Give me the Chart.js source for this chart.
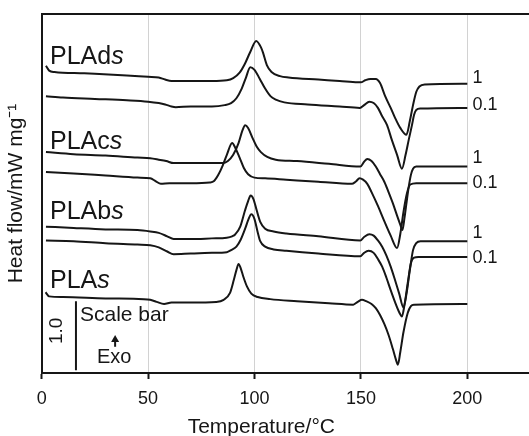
<!DOCTYPE html>
<html>
<head>
<meta charset="utf-8">
<script src="https://cdn.jsdelivr.net/npm/chart.js@4.4.1/dist/chart.umd.min.js"></script>
<style>
  html, body { margin: 0; padding: 0; background: #fff; }
  canvas { display: block; }
</style>
</head>
<body>
<canvas id="dsc" width="529" height="436"></canvas>
<script>
// DSC curves, heat flow in mW/mg (curves are stacked, offsets)
const samples = ['PLAds', 'PLAcs', 'PLAbs', 'PLAs'];
const rates = ['1', '0.1'];

// PLAds, rate 1
const tempA = [2,3.5,6,20,40,50,55,58,61,63,80,87,90,93,95.5,98,100.8,103,104,105.8,108,112,116,130,140,148.5,150,152,154.5,157,159,161.4,164,166,168.5,171.4,173,174.5,176,177.5,180,200];
const flowA = [4.45,4.38,4.36,4.34,4.31,4.29,4.28,4.25,4.23,4.23,4.23,4.24,4.27,4.35,4.48,4.65,4.81,4.72,4.64,4.46,4.36,4.30,4.28,4.25,4.23,4.21,4.21,4.24,4.26,4.26,4.20,4.01,3.84,3.70,3.55,3.45,3.65,3.88,4.07,4.15,4.18,4.19];
// PLAds, rate 0.1
const tempB = [2,10,25,40,50,55,58,61,63,70,80,86,89,91.5,94,96,98,100,102.5,105,107.5,110,114,125,140,149.5,151.5,154,156,158,160,162.3,164.5,167,169.3,171,172.5,174,175,176,178,200];
const flowB = [4.01,3.99,3.97,3.95,3.93,3.91,3.89,3.86,3.85,3.86,3.86,3.88,3.91,3.98,4.12,4.28,4.43,4.39,4.26,4.12,4.01,3.96,3.92,3.89,3.86,3.84,3.88,3.93,3.91,3.84,3.72,3.59,3.38,3.16,2.96,3.16,3.38,3.59,3.74,3.81,3.83,3.84];
// PLAcs, rate 1
const tempC = [2,15,30,45,51,55,58.5,62,70,80,85,87.5,90,92.5,94.3,95.6,97,99,101,103,106,110,120,135,149.7,151.5,153,155,157,159,161,163,165,167,168.5,169.5,170.5,171.5,172.5,173.5,174.5,176,200];
const flowC = [3.20,3.17,3.15,3.12,3.11,3.09,3.07,3.04,3.04,3.04,3.04,3.07,3.16,3.33,3.51,3.59,3.55,3.41,3.28,3.20,3.13,3.09,3.07,3.03,2.99,3.06,3.10,3.07,2.99,2.88,2.77,2.62,2.46,2.28,2.15,2.07,2.25,2.48,2.70,2.87,2.96,2.99,2.99];
// PLAcs, rate 0.1
const tempD = [2,15,30,45,51,53.5,56,60,70,79,81,83,85,87,89.5,91,93,95,97,100,105,115,130,145.8,147.5,149.4,151,153,155,158,161,164,167,168.5,170,171.7,173.2,176,200];
const flowD = [2.91,2.89,2.86,2.83,2.82,2.78,2.74,2.75,2.75,2.76,2.78,2.87,3.00,3.16,3.33,3.26,3.12,2.97,2.88,2.83,2.82,2.80,2.77,2.74,2.77,2.82,2.80,2.74,2.62,2.42,2.20,1.99,1.81,2.01,2.33,2.61,2.73,2.75,2.75];
// PLAbs, rate 1
const tempE = [2,15,30,45,51,55,59,62,70,80,87,89.5,91,93.3,95.6,97,98.2,99.5,101,102.7,105,109,115,130,149.7,151.5,154,156,158,160,162,164,166,168,170,171.5,173,174.5,176,178,200];
const flowE = [2.12,2.10,2.08,2.07,2.05,2.03,1.98,1.94,1.94,1.95,1.96,1.98,2.01,2.12,2.36,2.49,2.57,2.52,2.36,2.19,2.09,2.05,2.02,1.98,1.92,1.97,2.01,1.99,1.92,1.83,1.70,1.54,1.35,1.15,0.95,1.16,1.49,1.78,1.88,1.91,1.91];
// PLAbs, rate 0.1
const tempF = [2,15,30,45,51,55,59,62,70,80,87,89,91.5,93.5,95.6,97.2,98.5,100,101.5,102.7,105,109,115,130,149.7,151.5,153.6,156,158,160,162,164,166,168,169.3,170.5,172,173.5,175,177,200];
const flowF = [1.92,1.91,1.88,1.86,1.85,1.82,1.76,1.72,1.73,1.74,1.75,1.78,1.83,1.93,2.09,2.23,2.30,2.23,2.04,1.91,1.83,1.79,1.77,1.73,1.69,1.74,1.77,1.74,1.65,1.54,1.38,1.20,1.03,0.88,0.82,0.99,1.30,1.59,1.67,1.68,1.68];
// PLAs
const tempG = [1.8,3.5,10,30,48,51,54,57.5,61,70,82,85.5,88.5,90.3,91.5,92.5,93.5,94.8,96.5,98.5,101.5,107.4,120,135,146.4,148.5,150.5,152.5,155,157,159,161,163,165,166.5,167.4,168.5,170,172,173.5,175,200];
const flowG = [1.17,1.11,1.10,1.08,1.07,1.06,1.03,1.00,1.02,1.02,1.03,1.06,1.16,1.35,1.49,1.58,1.52,1.39,1.25,1.15,1.10,1.07,1.04,1.01,0.99,1.03,1.06,1.04,1.00,0.94,0.84,0.71,0.55,0.35,0.19,0.12,0.30,0.59,0.87,0.97,0.99,1.00];

// 1.0 mW/mg scale bar
const scaleBarT = [16.1, 16.1];
const scaleBarFlow = [0.04, 1.04];

const xTicks = [0, 50, 100, 150, 200];

const FONT = '"Liberation Sans", Arial, Helvetica, sans-serif';
const INK = '#161616';

function pts(temps, flows) {
  return temps.map((t, i) => ({ x: t, y: flows[i] }));
}

const curves = [[tempA, flowA], [tempB, flowB], [tempC, flowC], [tempD, flowD],
                [tempE, flowE], [tempF, flowF], [tempG, flowG]];

const datasets = curves.map(([t, f]) => ({
  data: pts(t, f),
  xAxisID: 'x',
  yAxisID: 'y',
  borderColor: INK,
  borderWidth: 2,
  pointRadius: 0,
  cubicInterpolationMode: 'monotone',
  fill: false
}));
datasets.push({
  data: pts(scaleBarT, scaleBarFlow),
  xAxisID: 'x',
  yAxisID: 'y',
  borderColor: INK,
  borderWidth: 2,
  pointRadius: 0
});

// text labels, arrow and x title
const annotations = {
  id: 'annotations',
  afterDatasetsDraw(chart) {
    const { ctx } = chart;
    const x = chart.scales.x, y = chart.scales.y;
    ctx.save();
    ctx.fillStyle = INK;
    ctx.strokeStyle = INK;
    ctx.textBaseline = 'middle';
    ctx.textAlign = 'left';

    const sampleY = [4.57, 3.35, 2.33, 1.33];
    samples.forEach((name, i) => {
      const px = x.getPixelForValue(3.9);
      const py = y.getPixelForValue(sampleY[i]);
      const stem = name.slice(0, -1);
      ctx.font = '25px ' + FONT;
      ctx.fillText(stem, px, py);
      const w = ctx.measureText(stem).width;
      ctx.font = 'italic 25px ' + FONT;
      ctx.fillText(name.slice(-1), px + w, py);
    });

    const rateY = [4.27, 3.88, 3.12, 2.75, 2.03, 1.67];
    ctx.font = '18px ' + FONT;
    rateY.forEach((v, i) => {
      ctx.fillText(rates[i % 2], x.getPixelForValue(202.4), y.getPixelForValue(v));
    });

    ctx.font = '21px ' + FONT;
    ctx.fillText('Scale bar', x.getPixelForValue(18), y.getPixelForValue(0.83));

    ctx.textAlign = 'center';
    ctx.font = '20px ' + FONT;
    ctx.fillText('Exo', x.getPixelForValue(34.1), y.getPixelForValue(0.23));

    const ax = x.getPixelForValue(34.5);
    const aTop = y.getPixelForValue(0.55), aBot = y.getPixelForValue(0.38);
    ctx.lineWidth = 2;
    ctx.beginPath(); ctx.moveTo(ax, aBot); ctx.lineTo(ax, aTop + 5); ctx.stroke();
    ctx.beginPath(); ctx.moveTo(ax, aTop); ctx.lineTo(ax - 4, aTop + 7); ctx.lineTo(ax + 4, aTop + 7);
    ctx.closePath(); ctx.fill();

    ctx.save();
    ctx.translate(x.getPixelForValue(7.3), y.getPixelForValue(0.61));
    ctx.rotate(-Math.PI / 2);
    ctx.font = '19px ' + FONT;
    ctx.fillText('1.0', 0, 0);
    ctx.restore();

    ctx.font = '21px ' + FONT;
    ctx.fillText('Temperature/°C', x.getPixelForValue(103.2), chart.height - 9);
    ctx.restore();
  }
};

new Chart(document.getElementById('dsc'), {
  type: 'line',
  data: { datasets },
  options: {
    responsive: false,
    animation: false,
    devicePixelRatio: 1,
    layout: { padding: 0 },
    plugins: { legend: { display: false }, tooltip: { enabled: false } },
    scales: {
      x: {
        type: 'linear',
        position: 'bottom',
        min: 0,
        max: 229,
        afterFit: s => { s.height = 63; },
        afterBuildTicks: s => { s.ticks = xTicks.map(v => ({ value: v })); },
        grid: { color: '#d2d2d2', lineWidth: 1, tickColor: INK, tickLength: 6, tickWidth: 2 },
        border: { color: INK, width: 2 },
        ticks: { padding: 9, color: INK, font: { family: FONT, size: 18 } }
      },
      top: {
        type: 'linear',
        position: 'top',
        min: 0,
        max: 229,
        afterFit: s => { s.height = 14; },
        grid: { display: false, drawTicks: false },
        ticks: { display: false },
        border: { color: INK, width: 2 }
      },
      y: {
        type: 'linear',
        position: 'left',
        min: 0,
        max: 5.2,
        afterFit: s => { s.width = 41.7; },
        grid: { display: false },
        ticks: { display: false },
        border: { color: INK, width: 2 },
        title: {
          display: true,
          text: 'Heat flow/mW mg⁻¹',
          color: INK,
          font: { family: FONT, size: 21 },
          padding: { top: 4, bottom: 0 }
        }
      }
    }
  },
  plugins: [annotations]
});
</script>
</body>
</html>
